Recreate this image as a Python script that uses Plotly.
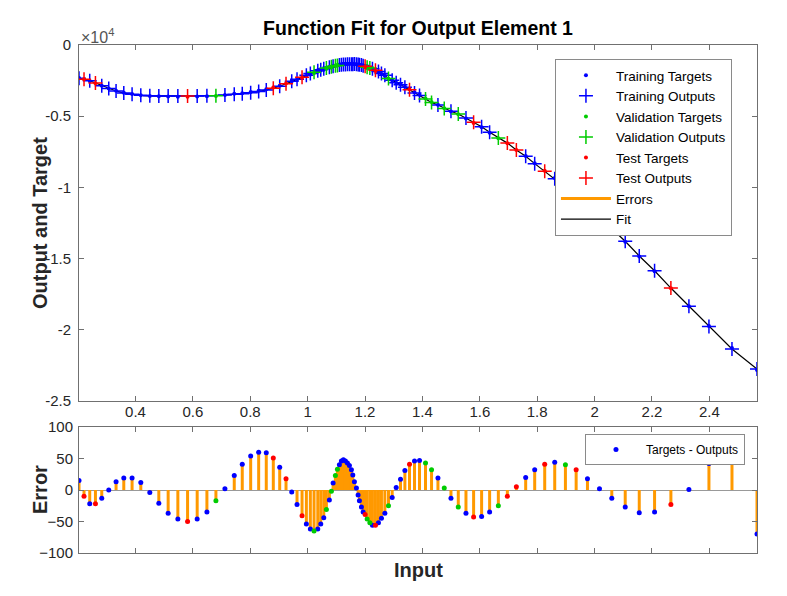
import plotly.graph_objects as go

# ---------------- data ----------------
input_x = [0.2031, 0.2206, 0.2405, 0.2604, 0.2824, 0.3068, 0.3323, 0.3592, 0.3881, 0.4185,
           0.4499, 0.4813, 0.5138, 0.5476, 0.5815, 0.6150, 0.6489, 0.6803, 0.7117, 0.7442,
           0.7721, 0.8014, 0.8293, 0.8558, 0.8803, 0.9026, 0.9246, 0.9445, 0.9630, 0.9805,
           0.9955, 1.0094, 1.0223, 1.0353, 1.0457, 1.0562, 1.0653, 1.0757, 1.0827, 1.0887,
           1.0967, 1.1037, 1.1106, 1.1176, 1.1246, 1.1316, 1.1386, 1.1455, 1.1525, 1.1574,
           1.1630, 1.1700, 1.1759, 1.1804, 1.1874, 1.1934, 1.2003, 1.2073, 1.2168, 1.2258,
           1.2363, 1.2468, 1.2572, 1.2691, 1.2817, 1.2946, 1.3086, 1.3236, 1.3389, 1.3550,
           1.3724, 1.3899, 1.4108, 1.4318, 1.4541, 1.4761, 1.4995, 1.5250, 1.5518, 1.5784,
           1.6063, 1.6342, 1.6646, 1.6960, 1.7274, 1.7599, 1.7913, 1.8262, 1.8611, 1.8984,
           1.9358, 1.9752, 2.0171, 2.0600, 2.1068, 2.1557, 2.2091, 2.2660, 2.3288, 2.3986,
           2.4789, 2.5661]

targets = [-2320, -2410, -2530, -2690, -2870, -3060, -3220, -3360, -3440, -3520,
           -3575, -3600, -3625, -3630, -3630, -3625, -3600, -3580, -3515, -3430,
           -3380, -3300, -3210, -3100, -2980, -2860, -2700, -2550, -2420, -2300,
           -2170, -2070, -1970, -1870, -1790, -1720, -1650, -1580, -1530, -1490,
           -1440, -1400, -1370, -1345, -1325, -1315, -1310, -1310, -1315, -1320,
           -1330, -1350, -1375, -1400, -1440, -1500, -1540, -1600, -1660, -1720,
           -1830, -1920, -2040, -2170, -2370, -2490, -2650, -2780, -2930, -3110,
           -3320, -3500, -3750, -4000, -4190, -4450, -4670, -4870, -5160, -5470,
           -5780, -6160, -6550, -6900, -7370, -7790, -8300, -8830, -9340, -9930,
           -10560, -11270, -12060, -12920, -13810, -14850, -15890, -17090, -18340, -19730,
           -21280, -22830]

errors = [15, -10, -22, -22, -13, 0, 13, 19, 19, 12,
          -4, -21, -37, -46, -50, -46, -35, -17, 2, 23,
          41, 54, 60, 59, 51, 36, 18, -3, -23, -41,
          -54, -62, -65, -62, -54, -44, -31, -16, -2, 11,
          23, 33, 40, 46, 48, 46, 43, 39, 32, 24,
          13, 3, -8, -17, -27, -35, -39, -46, -52, -56,
          -56, -52, -45, -37, -25, -12, 4, 17, 31, 41,
          46, 47, 43, 32, 19, 3, -13, -27, -37, -43,
          -42, -35, -25, -10, 5, 20, 32, 41, 44, 40,
          32, 18, 2, -13, -27, -36, -35, -23, 1, 42,
          70, -70]

subset = ["train", "test", "train", "test", "train", "train", "train", "train", "train", "train",
          "train", "train", "train", "train", "test", "train", "train", "val", "train", "train",
          "train", "train", "train", "train", "test", "train", "test", "train", "train", "test",
          "train", "train", "val", "train", "train", "train", "val", "train", "val", "train",
          "val", "val", "train", "train", "train", "train", "train", "train", "train", "train",
          "train", "train", "train", "train", "train", "train", "test", "val", "val", "train",
          "test", "train", "train", "train", "val", "train", "train", "train", "train", "test",
          "train", "train", "val", "val", "train", "val", "train", "val", "train", "test",
          "train", "train", "val", "test", "test", "train", "train", "test", "train", "val",
          "test", "train", "train", "train", "train", "train", "train", "test", "train", "train",
          "train", "train"]

set_order = ["train", "val", "test"]
target_names = {"train": "Training Targets", "val": "Validation Targets", "test": "Test Targets"}
output_names = {"train": "Training Outputs", "val": "Validation Outputs", "test": "Test Outputs"}
set_colors = {"train": "#0000ff", "val": "#00cc00", "test": "#ff0000"}

y_tick_vals = [0, -5000, -10000, -15000, -20000, -25000]
y_tick_text = ["0", "-0.5", "-1", "-1.5", "-2", "-2.5"]
x_tick_vals = [0.4, 0.6, 0.8, 1.0, 1.2, 1.4, 1.6, 1.8, 2.0, 2.2, 2.4]
x_tick_text = ["0.4", "0.6", "0.8", "1", "1.2", "1.4", "1.6", "1.8", "2", "2.2", "2.4"]
err_tick_vals = [100, 50, 0, -50, -100]

outputs = [t - e for t, e in zip(targets, errors)]

FONT = "Liberation Sans, Arial, Helvetica, sans-serif"
AX = "#707070"
TXT = "#262626"
ORANGE = "#ff9900"

fig = go.Figure()

# Fit line (drawn first so markers sit on top; ranked last in legend)
fig.add_trace(go.Scatter(x=input_x, y=outputs, mode="lines", name="Fit",
                         line=dict(color="black", width=1.2),
                         xaxis="x", yaxis="y", legend="legend", legendrank=8))

rank = 1
for s in set_order:
    xs = [x for x, k in zip(input_x, subset) if k == s]
    ts = [t for t, k in zip(targets, subset) if k == s]
    os_ = [o for o, k in zip(outputs, subset) if k == s]
    fig.add_trace(go.Scatter(x=xs, y=ts, mode="markers", name=target_names[s],
                             marker=dict(color=set_colors[s], size=4),
                             xaxis="x", yaxis="y", legend="legend", legendrank=rank))
    rank += 1
    fig.add_trace(go.Scatter(x=xs, y=os_, mode="markers", name=output_names[s],
                             marker=dict(symbol="cross-thin", size=10, color=set_colors[s],
                                         line=dict(color=set_colors[s], width=1.5)),
                             xaxis="x", yaxis="y", legend="legend", legendrank=rank))
    rank += 1

# Error stems in the lower axes
stem_x, stem_y = [], []
for x, e in zip(input_x, errors):
    stem_x += [x, x, None]
    stem_y += [0, e, None]
fig.add_trace(go.Scatter(x=stem_x, y=stem_y, mode="lines", name="Errors",
                         line=dict(color=ORANGE, width=3),
                         xaxis="x2", yaxis="y2", legend="legend", legendrank=7))

first = True
for s in set_order:
    xs = [x for x, k in zip(input_x, subset) if k == s]
    es = [e for e, k in zip(errors, subset) if k == s]
    fig.add_trace(go.Scatter(x=xs, y=es, mode="markers", name="Targets - Outputs",
                             marker=dict(color=set_colors[s], size=5),
                             showlegend=first, xaxis="x2", yaxis="y2", legend="legend2"))
    first = False

xr = [min(input_x), max(input_x)]
axis_common = dict(showline=True, linecolor=AX, linewidth=1, mirror="ticks",
                   ticks="inside", ticklen=5, tickcolor=AX, showgrid=False,
                   tickfont=dict(family=FONT, size=15, color=TXT))

# the page body has an 8px default margin, so the figure is 8px smaller
W, H = 779, 588
fig.update_layout(
    width=W, height=H,
    margin=dict(l=71, r=30, t=37, b=43),
    paper_bgcolor="white", plot_bgcolor="white",
    font=dict(family=FONT, color=TXT),
    title=dict(text="<b>Function Fit for Output Element 1</b>", x=0.5, xref="paper",
               y=1 - 20 / H, yref="container", yanchor="middle",
               font=dict(family=FONT, size=19.5, color="black")),
    xaxis=dict(domain=[0, 1], range=xr, anchor="y", tickvals=x_tick_vals,
               ticktext=x_tick_text, zeroline=False, ticklabelstandoff=-3, **axis_common),
    yaxis=dict(domain=[0.2992, 1], range=[-25000, 0], anchor="x", tickvals=y_tick_vals,
               ticktext=y_tick_text, zeroline=False, ticklabelstandoff=4, **axis_common),
    xaxis2=dict(domain=[0, 1], range=xr, anchor="y2", tickvals=x_tick_vals,
                showticklabels=False, zeroline=False, **axis_common),
    yaxis2=dict(domain=[0, 0.248], range=[-100, 100], anchor="x2", tickvals=err_tick_vals,
                zeroline=True, zerolinecolor="#999999", zerolinewidth=1,
                ticklabelstandoff=2, **axis_common),
    legend=dict(x=0.702, y=0.9724, xanchor="left", yanchor="top", bgcolor="white",
                bordercolor="#8a8a8a", borderwidth=1, itemwidth=50, tracegroupgap=0,
                font=dict(family=FONT, size=13.5, color="black"), traceorder="normal"),
    legend2=dict(x=0.7463, y=0.2343, xanchor="left", yanchor="top", bgcolor="white",
                 bordercolor="#8a8a8a", borderwidth=1, itemwidth=50,
                 font=dict(family=FONT, size=12, color="black")),
    showlegend=True,
    annotations=[
        dict(text="<b>Output and Target</b>", xref="paper", yref="paper",
             x=(40 - 79) / 678, y=(553 - 223) / 508, textangle=-90, showarrow=False,
             xanchor="center", yanchor="middle", font=dict(family=FONT, size=20, color=TXT)),
        dict(text="<b>Error</b>", xref="paper", yref="paper",
             x=(40 - 79) / 678, y=(553 - 490) / 508, textangle=-90, showarrow=False,
             xanchor="center", yanchor="middle", font=dict(family=FONT, size=20, color=TXT)),
        dict(text="<b>Input</b>", xref="paper", yref="paper",
             x=0.5, y=(553 - 570) / 508, showarrow=False,
             xanchor="center", yanchor="middle", font=dict(family=FONT, size=20, color=TXT)),
        dict(text="×10<sup>4</sup>", xref="paper", yref="paper",
             x=0.0, y=(553 - 36) / 508, showarrow=False,
             xanchor="left", yanchor="middle", font=dict(family=FONT, size=16, color="#555555")),
    ],
)

fig.write_html("out.html")
